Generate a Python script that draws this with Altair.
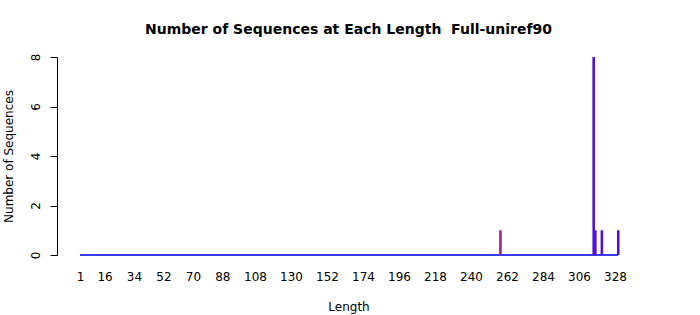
import altair as alt
import pandas as pd

lengths = [258, 315, 316, 320, 330]
counts = [1, 8, 1, 1, 1]
bar_colors = ["#a0208f", "#5010d8", "#5010d8", "#5010d8", "#5010d8"]
tick_labels = [1, 16, 34, 52, 70, 88, 108, 130, 152, 174, 196, 218, 240, 262, 284, 306, 328]
len_min, len_max = 1, 330

df = pd.DataFrame({"Length": lengths, "Count": counts, "color": bar_colors})
base_df = pd.DataFrame({"start": [len_min], "end": [len_max], "zero": [0]})

font = "DejaVu Sans"
xscale = alt.Scale(domain=[-13.06, 343.3], nice=False, zero=False)
yscale = alt.Scale(domain=[0, 8], nice=False)

xaxis = alt.Axis(values=tick_labels, title="Length", domain=False, ticks=False,
                 grid=False, labelPadding=16, titlePadding=19,
                 labelOverlap=False,
                 labelFont=font, labelFontSize=12, labelColor="black",
                 titleFont=font, titleFontSize=12, titleFontWeight="normal",
                 titleColor="black", labelFlush=False)
yaxis = alt.Axis(values=[0, 2, 4, 6, 8], title="Number of Sequences",
                 grid=False, domainColor="black", tickColor="black",
                 tickSize=7, labelAngle=270, labelAlign="center",
                 labelBaseline="bottom", labelPadding=8, labelOverlap=False,
                 labelFont=font, labelFontSize=12, labelColor="black",
                 titleFont=font, titleFontSize=12, titleFontWeight="normal",
                 titleColor="black", titlePadding=14, labelFlush=False)

baseline = alt.Chart(base_df).mark_rule(color="#3a3af0", strokeWidth=2).encode(
    x=alt.X("start:Q", scale=xscale, axis=xaxis),
    x2="end:Q",
    y=alt.Y("zero:Q", scale=yscale, axis=yaxis),
)

bars = alt.Chart(df).mark_rule(strokeWidth=2.6).encode(
    x=alt.X("Length:Q", scale=xscale, axis=xaxis),
    y=alt.Y("Count:Q", scale=yscale, axis=yaxis),
    y2=alt.datum(0),
    color=alt.Color("color:N", scale=None),
)

chart = alt.layer(baseline, bars).properties(
    width=583, height=198,
    title=alt.TitleParams("Number of Sequences at Each Length\u00a0\u00a0Full-uniref90",
                          font=font, fontSize=14, fontWeight="bold", color="black",
                          offset=16, anchor="middle"),
    autosize=alt.AutoSizeParams(type="none"),
    padding={"left": 57, "top": 57, "right": 60, "bottom": 60},
).configure_view(stroke=None).configure_axis(labelOverlap=False)

chart.save("out.html", embed_options={"renderer": "svg", "actions": False})
